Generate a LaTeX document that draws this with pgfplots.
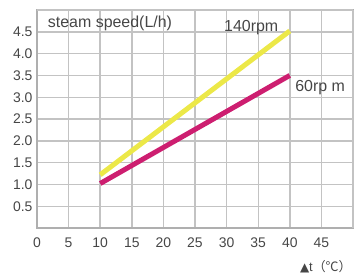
\documentclass[border=0pt]{standalone}
\usepackage{pgfplots}
\pgfplotsset{compat=1.18}
\usepackage{fontspec}
\setmainfont{Liberation Sans}
\newfontfamily\symfont{DejaVu Sans}
\newfontfamily\cjk{Noto Sans CJK SC}
\definecolor{gridgray}{RGB}{195,195,195}
\definecolor{txtgray}{RGB}{70,70,70}
\definecolor{ylw}{RGB}{236,232,72}
\definecolor{mgt}{RGB}{205,30,112}
\begin{document}
\begin{tikzpicture}
\begin{axis}[
  scale only axis,
  width=316bp, height=218bp,
  xmin=0, xmax=50, ymin=0, ymax=5,
  xtick={0,5,...,45},
  ytick={0.5,1,...,4.5},
  extra x ticks={50}, extra x tick labels={},
  extra y ticks={5}, extra y tick labels={},
  extra tick style={grid=major},
  yticklabel style={/pgf/number format/fixed,/pgf/number format/fixed zerofill,/pgf/number format/precision=1},
  /pgf/number format/assume math mode=true,
  grid=major,
  major grid style={gridgray, line width=1.4bp},
  axis line style={gridgray!90!black, line width=1.6bp},
  major tick length=0pt,
  tick style={draw=none},
  ticklabel style={font=\fontsize{14}{16}\selectfont, text=txtgray},
  xticklabel style={yshift=-6bp},
  yticklabel style={xshift=-1bp},
  clip=false,
]
\addplot[ylw, line width=5bp] coordinates {(10,1.22) (40,4.52)};
\addplot[mgt, line width=5bp] coordinates {(10,1.02) (40,3.5)};
\node[text=txtgray, font=\fontsize{16}{18}\selectfont] at (axis cs:11.55,4.7) {steam speed(L/h)};
\node[text=txtgray, font=\fontsize{16}{18}\selectfont] at (axis cs:33.9,4.6) {140rpm};
\node[text=txtgray, font=\fontsize{16}{18}\selectfont] at (axis cs:44.8,3.22) {60rp m};
\node[text=txtgray, font=\fontsize{13}{15}\selectfont, anchor=center] at (axis cs:45.7,-0.88) {{\symfont\fontsize{12}{14}\selectfont ▲}t{\cjk （℃）}};
\end{axis}
\pgfresetboundingbox
\path[use as bounding box] (-37bp,-48bp) rectangle (321bp,228bp);
\end{tikzpicture}
\end{document}
